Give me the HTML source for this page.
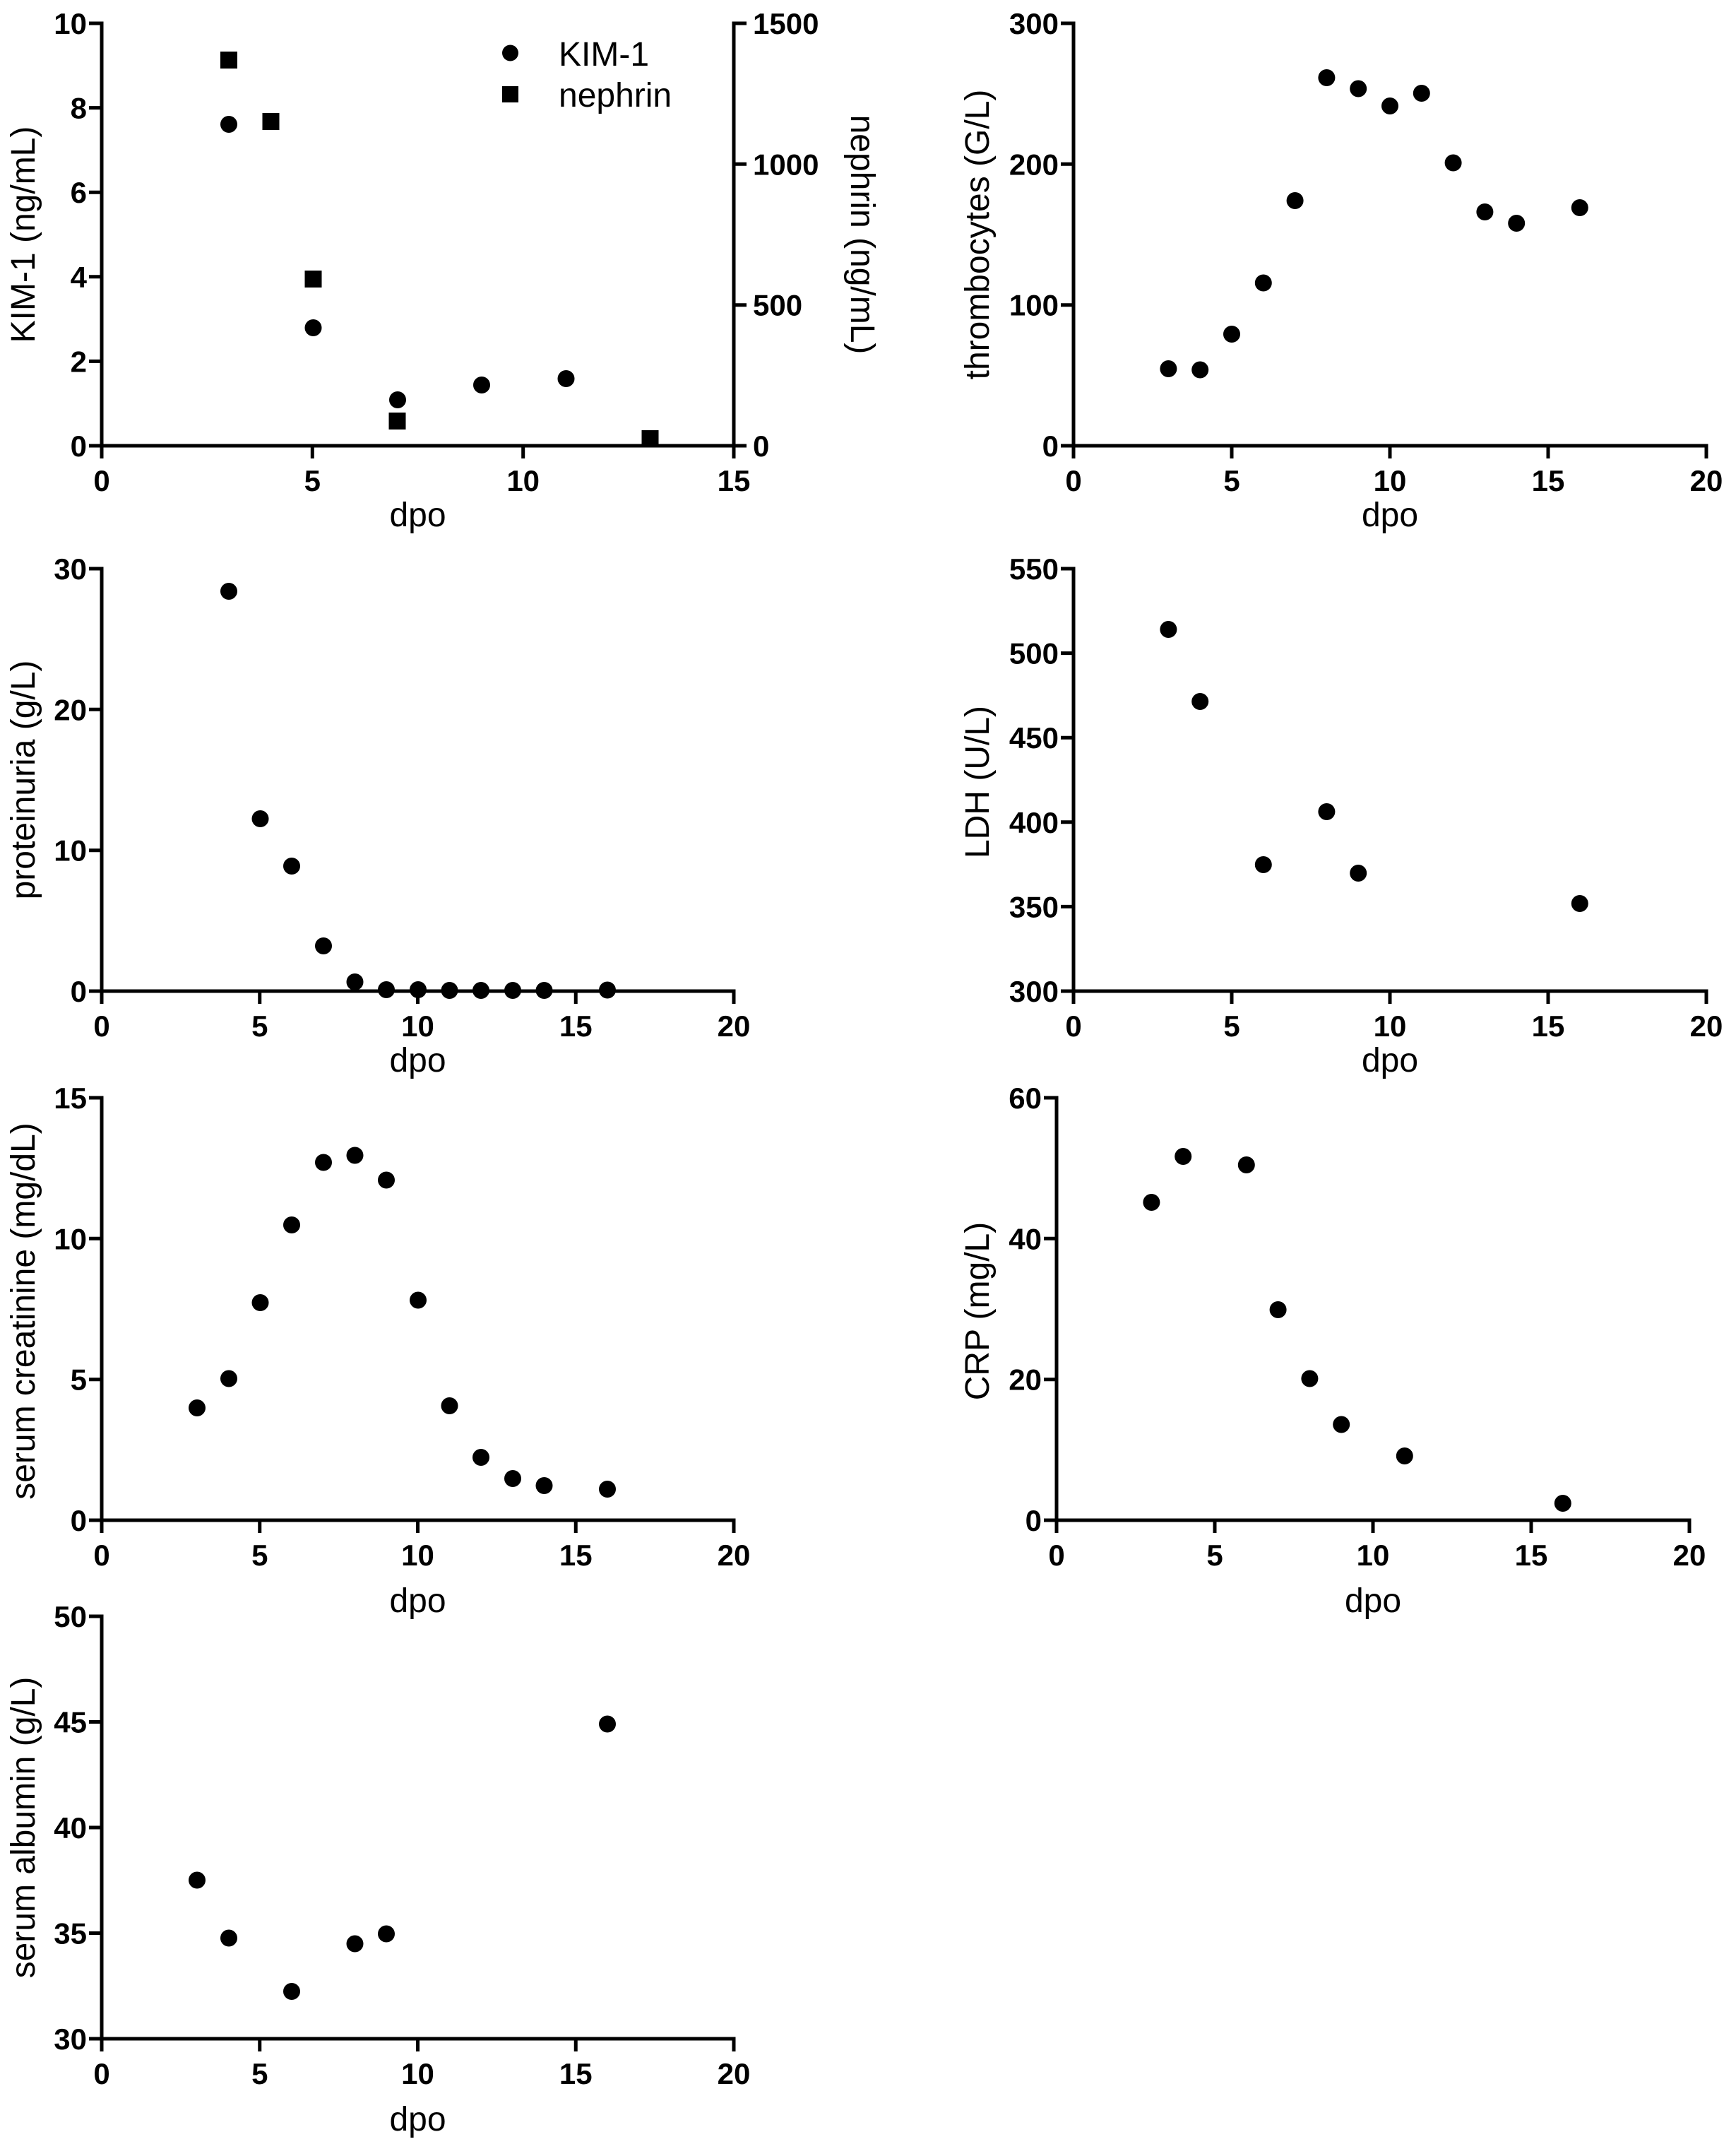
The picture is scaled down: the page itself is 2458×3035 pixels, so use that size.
<!DOCTYPE html>
<html>
<head>
<meta charset="utf-8">
<style>
  html, body { margin: 0; padding: 0; background: #fff; }
  svg { display: block; }
  .ax { fill: none; stroke: #000; stroke-width: 5; stroke-linejoin: miter; stroke-linecap: butt; }
  .tk { font-family: "Liberation Sans", Arial, sans-serif; font-weight: bold; font-size: 42px; fill: #000; }
  .tt { font-family: "Liberation Sans", Arial, sans-serif; font-size: 48px; fill: #000; }
</style>
</head>
<body>
<svg width="2458" height="3035" viewBox="0 0 2458 3035" xmlns="http://www.w3.org/2000/svg">
<rect width="2458" height="3035" fill="#fff"/>

<!-- ============ Panel 1: KIM-1 / nephrin ============ -->
<g>
  <path class="ax" d="M126 33 H144 V649"/>
  <path class="ax" d="M126 631 H1057"/>
  <path class="ax" d="M1057 33 H1039 V649"/>
  <path class="ax" d="M126 152.6 H144 M126 272.2 H144 M126 391.8 H144 M126 511.4 H144"/>
  <path class="ax" d="M1039 232.3 H1057 M1039 431.7 H1057"/>
  <path class="ax" d="M442.3 631 V649 M740.7 631 V649"/>
  <g class="tk" text-anchor="end">
    <text x="123" y="48">10</text>
    <text x="123" y="167.6">8</text>
    <text x="123" y="287.2">6</text>
    <text x="123" y="406.8">4</text>
    <text x="123" y="526.4">2</text>
    <text x="123" y="646">0</text>
  </g>
  <g class="tk" text-anchor="start">
    <text x="1066" y="48">1500</text>
    <text x="1066" y="247.3">1000</text>
    <text x="1066" y="446.7">500</text>
    <text x="1066" y="646">0</text>
  </g>
  <g class="tk" text-anchor="middle">
    <text x="144" y="695">0</text>
    <text x="442.3" y="695">5</text>
    <text x="740.7" y="695">10</text>
    <text x="1039" y="695">15</text>
  </g>
  <text class="tt" text-anchor="middle" transform="translate(49,332) rotate(-90)">KIM-1 (ng/mL)</text>
  <text class="tt" text-anchor="middle" transform="translate(1205,332) rotate(90)">nephrin (ng/mL)</text>
  <text class="tt" text-anchor="middle" x="591.5" y="745">dpo</text>
  <!-- legend -->
  <circle cx="722.5" cy="75" r="11.5" fill="#000"/>
  <rect x="711" y="122" width="23" height="23" fill="#000"/>
  <text class="tt" x="791" y="93">KIM-1</text>
  <text class="tt" x="791" y="151">nephrin</text>
  <!-- KIM-1 circles -->
  <g fill="#000">
    <circle cx="324" cy="176" r="12"/>
    <circle cx="443.5" cy="464" r="12"/>
    <circle cx="563" cy="566" r="12"/>
    <circle cx="682" cy="545" r="12"/>
    <circle cx="801.5" cy="536" r="12"/>
  </g>
  <!-- nephrin squares -->
  <g fill="#000">
    <rect x="312" y="73" width="24" height="24"/>
    <rect x="371.5" y="160" width="24" height="24"/>
    <rect x="431.5" y="383" width="24" height="24"/>
    <rect x="550.5" y="584" width="24" height="24"/>
    <rect x="908.5" y="609" width="24" height="24"/>
  </g>
</g>

<!-- ============ Panel 2: thrombocytes ============ -->
<g>
  <path class="ax" d="M1502 33 H1520 V649"/>
  <path class="ax" d="M1502 631 H2416 V649"/>
  <path class="ax" d="M1502 232.3 H1520 M1502 431.7 H1520"/>
  <path class="ax" d="M1744 631 V649 M1968 631 V649 M2192 631 V649"/>
  <g class="tk" text-anchor="end">
    <text x="1499" y="48">300</text>
    <text x="1499" y="247.3">200</text>
    <text x="1499" y="446.7">100</text>
    <text x="1499" y="646">0</text>
  </g>
  <g class="tk" text-anchor="middle">
    <text x="1520" y="695">0</text>
    <text x="1744" y="695">5</text>
    <text x="1968" y="695">10</text>
    <text x="2192" y="695">15</text>
    <text x="2416" y="695">20</text>
  </g>
  <text class="tt" text-anchor="middle" transform="translate(1400,332) rotate(-90)">thrombocytes (G/L)</text>
  <text class="tt" text-anchor="middle" x="1968" y="745">dpo</text>
  <g fill="#000">
    <circle cx="1654.4" cy="522" r="12"/>
    <circle cx="1699.2" cy="523.5" r="12"/>
    <circle cx="1744" cy="473" r="12"/>
    <circle cx="1788.8" cy="400.5" r="12"/>
    <circle cx="1833.6" cy="284" r="12"/>
    <circle cx="1878.4" cy="110" r="12"/>
    <circle cx="1923.2" cy="125.5" r="12"/>
    <circle cx="1968" cy="150" r="12"/>
    <circle cx="2012.8" cy="132" r="12"/>
    <circle cx="2057.6" cy="230.5" r="12"/>
    <circle cx="2102.4" cy="300" r="12"/>
    <circle cx="2147.2" cy="316" r="12"/>
    <circle cx="2236.8" cy="294" r="12"/>
  </g>
</g>

<!-- ============ Panel 3: proteinuria ============ -->
<g>
  <path class="ax" d="M126 805 H144 V1421"/>
  <path class="ax" d="M126 1403 H1039 V1421"/>
  <path class="ax" d="M126 1004.3 H144 M126 1203.7 H144"/>
  <path class="ax" d="M367.75 1403 V1421 M591.5 1403 V1421 M815.25 1403 V1421"/>
  <g class="tk" text-anchor="end">
    <text x="123" y="820">30</text>
    <text x="123" y="1019.3">20</text>
    <text x="123" y="1218.7">10</text>
    <text x="123" y="1418">0</text>
  </g>
  <g class="tk" text-anchor="middle">
    <text x="144" y="1467">0</text>
    <text x="367.75" y="1467">5</text>
    <text x="591.5" y="1467">10</text>
    <text x="815.25" y="1467">15</text>
    <text x="1039" y="1467">20</text>
  </g>
  <text class="tt" text-anchor="middle" transform="translate(49,1104) rotate(-90)">proteinuria (g/L)</text>
  <text class="tt" text-anchor="middle" x="591.5" y="1517">dpo</text>
  <g fill="#000">
    <circle cx="324" cy="837" r="12"/>
    <circle cx="368.5" cy="1159" r="12"/>
    <circle cx="413" cy="1226" r="12"/>
    <circle cx="458" cy="1339" r="12"/>
    <circle cx="502.5" cy="1390" r="12"/>
    <circle cx="547" cy="1401" r="12"/>
    <circle cx="592" cy="1401" r="12"/>
    <circle cx="636.5" cy="1402" r="12"/>
    <circle cx="681" cy="1402" r="12"/>
    <circle cx="726" cy="1402" r="12"/>
    <circle cx="770.5" cy="1402" r="12"/>
    <circle cx="860" cy="1401.5" r="12"/>
  </g>
</g>

<!-- ============ Panel 4: LDH ============ -->
<g>
  <path class="ax" d="M1502 805 H1520 V1421"/>
  <path class="ax" d="M1502 1403 H2416 V1421"/>
  <path class="ax" d="M1502 924.6 H1520 M1502 1044.2 H1520 M1502 1163.8 H1520 M1502 1283.4 H1520"/>
  <path class="ax" d="M1744 1403 V1421 M1968 1403 V1421 M2192 1403 V1421"/>
  <g class="tk" text-anchor="end">
    <text x="1499" y="820">550</text>
    <text x="1499" y="939.6">500</text>
    <text x="1499" y="1059.2">450</text>
    <text x="1499" y="1178.8">400</text>
    <text x="1499" y="1298.4">350</text>
    <text x="1499" y="1418">300</text>
  </g>
  <g class="tk" text-anchor="middle">
    <text x="1520" y="1467">0</text>
    <text x="1744" y="1467">5</text>
    <text x="1968" y="1467">10</text>
    <text x="2192" y="1467">15</text>
    <text x="2416" y="1467">20</text>
  </g>
  <text class="tt" text-anchor="middle" transform="translate(1400,1107) rotate(-90)">LDH (U/L)</text>
  <text class="tt" text-anchor="middle" x="1968" y="1517">dpo</text>
  <g fill="#000">
    <circle cx="1654.4" cy="891" r="12"/>
    <circle cx="1699.2" cy="993" r="12"/>
    <circle cx="1788.8" cy="1224" r="12"/>
    <circle cx="1878.4" cy="1149" r="12"/>
    <circle cx="1923.2" cy="1236" r="12"/>
    <circle cx="2236.8" cy="1279" r="12"/>
  </g>
</g>

<!-- ============ Panel 5: serum creatinine ============ -->
<g>
  <path class="ax" d="M126 1554 H144 V2170"/>
  <path class="ax" d="M126 2152 H1039 V2170"/>
  <path class="ax" d="M126 1753.3 H144 M126 1952.7 H144"/>
  <path class="ax" d="M367.75 2152 V2170 M591.5 2152 V2170 M815.25 2152 V2170"/>
  <g class="tk" text-anchor="end">
    <text x="123" y="1569">15</text>
    <text x="123" y="1768.3">10</text>
    <text x="123" y="1967.7">5</text>
    <text x="123" y="2167">0</text>
  </g>
  <g class="tk" text-anchor="middle">
    <text x="144" y="2216">0</text>
    <text x="367.75" y="2216">5</text>
    <text x="591.5" y="2216">10</text>
    <text x="815.25" y="2216">15</text>
    <text x="1039" y="2216">20</text>
  </g>
  <text class="tt" text-anchor="middle" transform="translate(49,1856) rotate(-90)">serum creatinine (mg/dL)</text>
  <text class="tt" text-anchor="middle" x="591.5" y="2282">dpo</text>
  <g fill="#000">
    <circle cx="279" cy="1993" r="12"/>
    <circle cx="324" cy="1951.5" r="12"/>
    <circle cx="368.5" cy="1844" r="12"/>
    <circle cx="413" cy="1734" r="12"/>
    <circle cx="458" cy="1645.5" r="12"/>
    <circle cx="502.5" cy="1635.5" r="12"/>
    <circle cx="547" cy="1670.5" r="12"/>
    <circle cx="592" cy="1840.5" r="12"/>
    <circle cx="636.5" cy="1990" r="12"/>
    <circle cx="681" cy="2063" r="12"/>
    <circle cx="726" cy="2093" r="12"/>
    <circle cx="770.5" cy="2103" r="12"/>
    <circle cx="860" cy="2108" r="12"/>
  </g>
</g>

<!-- ============ Panel 6: CRP ============ -->
<g>
  <path class="ax" d="M1478 1554 H1496 V2170"/>
  <path class="ax" d="M1478 2152 H2392 V2170"/>
  <path class="ax" d="M1478 1753.3 H1496 M1478 1952.7 H1496"/>
  <path class="ax" d="M1720 2152 V2170 M1944 2152 V2170 M2168 2152 V2170"/>
  <g class="tk" text-anchor="end">
    <text x="1475" y="1569">60</text>
    <text x="1475" y="1768.3">40</text>
    <text x="1475" y="1967.7">20</text>
    <text x="1475" y="2167">0</text>
  </g>
  <g class="tk" text-anchor="middle">
    <text x="1496" y="2216">0</text>
    <text x="1720" y="2216">5</text>
    <text x="1944" y="2216">10</text>
    <text x="2168" y="2216">15</text>
    <text x="2392" y="2216">20</text>
  </g>
  <text class="tt" text-anchor="middle" transform="translate(1400,1856) rotate(-90)">CRP (mg/L)</text>
  <text class="tt" text-anchor="middle" x="1944" y="2282">dpo</text>
  <g fill="#000">
    <circle cx="1630.4" cy="1702" r="12"/>
    <circle cx="1675.2" cy="1637" r="12"/>
    <circle cx="1764.8" cy="1649" r="12"/>
    <circle cx="1809.6" cy="1854" r="12"/>
    <circle cx="1854.4" cy="1951.5" r="12"/>
    <circle cx="1899.2" cy="2016.5" r="12"/>
    <circle cx="1988.8" cy="2061" r="12"/>
    <circle cx="2212.8" cy="2128" r="12"/>
  </g>
</g>

<!-- ============ Panel 7: serum albumin ============ -->
<g>
  <path class="ax" d="M126 2288 H144 V2904"/>
  <path class="ax" d="M126 2886 H1039 V2904"/>
  <path class="ax" d="M126 2437.5 H144 M126 2587 H144 M126 2736.5 H144"/>
  <path class="ax" d="M367.75 2886 V2904 M591.5 2886 V2904 M815.25 2886 V2904"/>
  <g class="tk" text-anchor="end">
    <text x="123" y="2303">50</text>
    <text x="123" y="2452.5">45</text>
    <text x="123" y="2602">40</text>
    <text x="123" y="2751.5">35</text>
    <text x="123" y="2901">30</text>
  </g>
  <g class="tk" text-anchor="middle">
    <text x="144" y="2950">0</text>
    <text x="367.75" y="2950">5</text>
    <text x="591.5" y="2950">10</text>
    <text x="815.25" y="2950">15</text>
    <text x="1039" y="2950">20</text>
  </g>
  <text class="tt" text-anchor="middle" transform="translate(49,2587) rotate(-90)">serum albumin (g/L)</text>
  <text class="tt" text-anchor="middle" x="591.5" y="3016">dpo</text>
  <g fill="#000">
    <circle cx="279" cy="2661.5" r="12"/>
    <circle cx="324" cy="2743.5" r="12"/>
    <circle cx="413" cy="2819" r="12"/>
    <circle cx="502.5" cy="2751.5" r="12"/>
    <circle cx="547" cy="2737.5" r="12"/>
    <circle cx="860" cy="2440.5" r="12"/>
  </g>
</g>
</svg>
</body>
</html>
